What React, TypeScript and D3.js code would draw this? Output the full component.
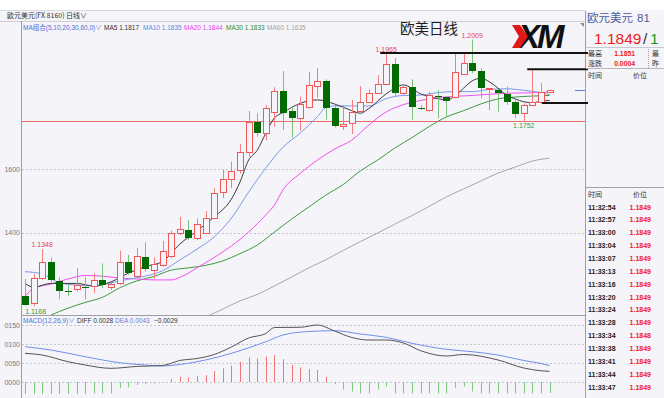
import React, { Component } from "react";
import * as d3 from "d3";

// daily candles, EUR/USD
const opens = [1.1200, 1.1177, 1.1258, 1.1307, 1.1249, 1.1215, 1.1222, 1.1228, 1.1232, 1.1251, 1.1230, 1.1240, 1.1307, 1.1263, 1.1324, 1.1282, 1.1298, 1.1327, 1.1398, 1.1409, 1.1382, 1.1400, 1.1447, 1.1527, 1.1568, 1.1598, 1.1656, 1.1750, 1.1715, 1.1782, 1.1847, 1.1784, 1.1763, 1.1797, 1.1864, 1.1879, 1.1792, 1.1737, 1.1745, 1.1784, 1.1813, 1.1842, 1.1869, 1.1932, 1.1840, 1.1861, 1.1794, 1.1787, 1.1832, 1.1829, 1.1829, 1.1900, 1.1936, 1.1911, 1.1853, 1.1850, 1.1837, 1.1813, 1.1779, 1.1803, 1.1813, 1.1843];
const highs = [1.1254, 1.1270, 1.1348, 1.1322, 1.1259, 1.1237, 1.1288, 1.1261, 1.1272, 1.1303, 1.1245, 1.1343, 1.1330, 1.1351, 1.1370, 1.1322, 1.1374, 1.1406, 1.1450, 1.1440, 1.1445, 1.1468, 1.1540, 1.1598, 1.1624, 1.1679, 1.1784, 1.1777, 1.1803, 1.1859, 1.1910, 1.1797, 1.1829, 1.1908, 1.1919, 1.1884, 1.1803, 1.1803, 1.1819, 1.1863, 1.1852, 1.1897, 1.1965, 1.1951, 1.1868, 1.1884, 1.1803, 1.1845, 1.1850, 1.1829, 1.1966, 1.1966, 1.2009, 1.1919, 1.1855, 1.1852, 1.1861, 1.1819, 1.1808, 1.1913, 1.1873, 1.1851];
const lows = [1.1170, 1.1168, 1.1251, 1.1244, 1.1190, 1.1200, 1.1214, 1.1190, 1.1209, 1.1225, 1.1219, 1.1235, 1.1267, 1.1259, 1.1277, 1.1255, 1.1293, 1.1319, 1.1393, 1.1377, 1.1377, 1.1398, 1.1445, 1.1509, 1.1540, 1.1587, 1.1640, 1.1703, 1.1692, 1.1734, 1.1724, 1.1700, 1.1722, 1.1792, 1.1826, 1.1756, 1.1732, 1.1724, 1.1711, 1.1782, 1.1809, 1.1840, 1.1866, 1.1829, 1.1835, 1.1756, 1.1787, 1.1782, 1.1761, 1.1766, 1.1824, 1.1897, 1.1903, 1.1824, 1.1787, 1.1782, 1.1803, 1.1761, 1.1752, 1.1800, 1.1808, 1.1840];
const closes = [1.1172, 1.1258, 1.1307, 1.1251, 1.1217, 1.1212, 1.1235, 1.1226, 1.1251, 1.1235, 1.1237, 1.1307, 1.1272, 1.1327, 1.1285, 1.1301, 1.1342, 1.1398, 1.1411, 1.1382, 1.1426, 1.1447, 1.1526, 1.1568, 1.1596, 1.1656, 1.1750, 1.1715, 1.1792, 1.1848, 1.1777, 1.1763, 1.1805, 1.1866, 1.1879, 1.1792, 1.1737, 1.1742, 1.1782, 1.1813, 1.1842, 1.1869, 1.1932, 1.1840, 1.1861, 1.1797, 1.1790, 1.1834, 1.1830, 1.1815, 1.1906, 1.1936, 1.1911, 1.1856, 1.1855, 1.1840, 1.1813, 1.1774, 1.1803, 1.1813, 1.1845, 1.1849];

// moving averages: [candle index, value]
const ma5 = [[0, 1.1240], [1, 1.1228], [3, 1.1240], [6, 1.1240], [8, 1.1232], [10, 1.1245], [12, 1.1272], [14, 1.1293], [16, 1.1309], [18, 1.1364], [20, 1.1406], [22, 1.1450], [24, 1.1506], [25, 1.1560], [26, 1.1629], [27, 1.1660], [28, 1.1714], [29, 1.1762], [30, 1.1779], [32, 1.1808], [34, 1.1819], [36, 1.1806], [38, 1.1785], [39, 1.1777], [40, 1.1792], [42, 1.1838], [44, 1.1866], [46, 1.1838], [48, 1.1823], [49, 1.1819], [50, 1.1831], [51, 1.1856], [52, 1.1879], [53, 1.1887], [54, 1.1876], [55, 1.1856], [56, 1.1834], [57, 1.1822], [58, 1.1813], [59, 1.1810], [60, 1.1815], [61, 1.1817]];
const ma10 = [[0, 1.1277], [2, 1.1270], [4, 1.1242], [6, 1.1235], [8, 1.1232], [10, 1.1242], [12, 1.1253], [14, 1.1263], [16, 1.1280], [18, 1.1314], [20, 1.1348], [22, 1.1387], [24, 1.1446], [26, 1.1528], [28, 1.1604], [30, 1.1670], [32, 1.1714], [34, 1.1766], [35, 1.1795], [36, 1.1800], [38, 1.1800], [40, 1.1800], [42, 1.1823], [44, 1.1833], [46, 1.1834], [48, 1.1842], [50, 1.1845], [52, 1.1845], [54, 1.1852], [56, 1.1854], [58, 1.1849], [60, 1.1842], [61, 1.1835]];
const ma20 = [[0, 1.1198], [1, 1.1225], [3, 1.1238], [5, 1.1254], [7, 1.1265], [9, 1.1263], [11, 1.1257], [13, 1.1254], [15, 1.1251], [17, 1.1251], [18, 1.1259], [20, 1.1289], [22, 1.1322], [24, 1.1358], [26, 1.1402], [28, 1.1456], [29, 1.1487], [30, 1.1535], [32, 1.1587], [34, 1.1629], [36, 1.1664], [38, 1.1692], [40, 1.1740], [42, 1.1781], [44, 1.1804], [46, 1.1817], [48, 1.1826], [50, 1.1830], [52, 1.1833], [56, 1.1840], [60, 1.1842], [61, 1.1844]];
const ma30 = [[3, 1.1140], [5, 1.1162], [7, 1.1180], [9, 1.1196], [11, 1.1226], [13, 1.1248], [15, 1.1262], [17, 1.1282], [19, 1.1289], [21, 1.1297], [23, 1.1311], [25, 1.1334], [27, 1.1361], [29, 1.1402], [31, 1.1443], [33, 1.1481], [35, 1.1519], [37, 1.1552], [39, 1.1595], [41, 1.1629], [43, 1.1667], [45, 1.1700], [47, 1.1735], [49, 1.1765], [51, 1.1785], [53, 1.1806], [55, 1.1822], [57, 1.1828], [59, 1.1831], [61, 1.1833]];
const ma60 = [[21, 1.1134], [23, 1.1159], [25, 1.1185], [27, 1.1205], [29, 1.1232], [31, 1.1260], [33, 1.1289], [35, 1.1315], [37, 1.1344], [39, 1.1372], [41, 1.1399], [43, 1.1427], [45, 1.1454], [47, 1.1483], [49, 1.1513], [51, 1.1538], [53, 1.1563], [55, 1.1588], [57, 1.1607], [59, 1.1626], [61, 1.1635]];

// MACD(12,26,9)
const diff = [[0, 0.00755], [2, 0.0071], [5, 0.00534], [7, 0.00447], [10, 0.0036], [13, 0.0041], [16, 0.00434], [18, 0.00566], [20, 0.00618], [22, 0.00724], [24, 0.00921], [26, 0.01158], [28, 0.01276], [29, 0.01434], [32, 0.0144], [34, 0.0150], [36, 0.01342], [38, 0.01171], [40, 0.01105], [42, 0.01105], [44, 0.01026], [46, 0.00824], [49, 0.00684], [51, 0.00724], [55, 0.00579], [58, 0.00368], [60, 0.00295], [61, 0.0028]];
const dea = [[0, 0.00929], [3, 0.00842], [7, 0.00666], [11, 0.00508], [14, 0.00447], [16, 0.00421], [18, 0.0046], [21, 0.00579], [24, 0.00755], [28, 0.0106], [30, 0.01237], [33, 0.01329], [36, 0.0135], [39, 0.01263], [42, 0.01176], [45, 0.01018], [49, 0.0086], [52, 0.00797], [55, 0.0071], [58, 0.00566], [60, 0.00487], [61, 0.0043]];
const macdHist = [-0.0035, -0.0034, -0.0034, -0.0033, -0.0033, -0.0032, -0.0031, -0.0031, -0.0030, -0.0030, -0.0030, -0.0016, -0.0014, -0.0008, -0.0006, -0.0004, -0.0001, 0.0008, 0.0014, 0.0012, 0.0016, 0.0018, 0.0029, 0.0036, 0.0043, 0.0053, 0.0065, 0.0062, 0.0067, 0.0071, 0.0060, 0.0045, 0.0038, 0.0034, 0.0032, 0.0014, -0.0005, -0.0020, -0.0025, -0.0030, -0.0030, -0.0020, -0.0012, -0.0030, -0.0030, -0.0030, -0.0030, -0.0030, -0.0030, -0.0030, -0.0015, -0.0012, -0.0025, -0.0030, -0.0030, -0.0030, -0.0030, -0.0030, -0.0030, -0.0030, -0.0030, -0.0029];

const priceTicks = [1.14, 1.16];
const macdTicks = [0, 0.005, 0.01, 0.015];

// drawn horizontal lines: price level and first candle index
const drawnLevels = [1.1967, 1.1916, 1.1809];
const drawnFrom = [41.3, 58.4, 60.1];
const lowLevel = 1.1752;
const lastPrice = 1.1849;

// tick list on the right
const tickTimes = ["11:32:54", "11:32:57", "11:33:00", "11:33:04", "11:33:07", "11:33:13", "11:33:16", "11:33:20", "11:33:24", "11:33:28", "11:33:34", "11:33:38", "11:33:41", "11:33:44", "11:33:47"];
const tickPrices = ["1.1849", "1.1849", "1.1849", "1.1849", "1.1849", "1.1849", "1.1849", "1.1849", "1.1849", "1.1849", "1.1848", "1.1849", "1.1849", "1.1849", "1.1849"];

const maLegend = [
  { text: "MA5 1.1817", color: "#333333" },
  { text: "MA10 1.1835", color: "#6485e6" },
  { text: "MA20 1.1844", color: "#f23cf2" },
  { text: "MA30 1.1833", color: "#2f8f2f" },
  { text: "MA60 1.1635", color: "#a4a4a4" },
];

const SANS = "'Liberation Sans', Arial, 'Noto Sans CJK SC', sans-serif";
const CJK = "'Noto Sans CJK SC', sans-serif";
const BG = "#f4f4f9";

class App extends Component {
  componentDidMount() {
    this.renderChart();
  }

  componentDidUpdate() {
    this.renderChart();
  }

  renderChart() {
    const svg: any = d3.select(".kline_svg");
    svg.selectAll("*").remove();

    const left = 22, right = 585, top = 21, mainBottom = 315, macdBottom = 394;

    const x = d3.scaleLinear().domain([0, 61]).range([25, 549.6]);
    const y = d3.scaleLinear().domain([1.14, 1.16]).range([232.7, 169.3]);
    const my = d3.scaleLinear().domain([0, 0.015]).range([382, 325]);

    const text = (g: any, tx: number, ty: number, s: string, size: number, color: string, opts: any = {}) =>
      g.append("text")
        .attr("x", tx)
        .attr("y", ty)
        .attr("font-family", opts.family || SANS)
        .attr("font-size", size)
        .attr("font-weight", opts.weight || "normal")
        .attr("font-style", opts.style || "normal")
        .attr("text-anchor", opts.anchor || "start")
        .attr("fill", color)
        .text(s);

    // backgrounds and frames
    svg.append("rect").attr("width", 664).attr("height", 398).attr("fill", BG);
    svg.append("rect").attr("width", 664).attr("height", 10).attr("fill", "#ffffff");
    svg.append("line").attr("x1", 0).attr("x2", right).attr("y1", 10.5).attr("y2", 10.5).attr("stroke", "#d9d9e0");
    svg.append("line").attr("x1", 0).attr("x2", right).attr("y1", top + 0.5).attr("y2", top + 0.5).attr("stroke", "#cfcfd8");
    svg.append("line").attr("x1", left - 0.5).attr("x2", left - 0.5).attr("y1", top).attr("y2", 398).attr("stroke", "#9c9ca4");
    svg.append("line").attr("x1", right + 0.5).attr("x2", right + 0.5).attr("y1", 11).attr("y2", 398).attr("stroke", "#9c9ca4");
    svg.append("line").attr("x1", left).attr("x2", right).attr("y1", mainBottom + 0.5).attr("y2", mainBottom + 0.5).attr("stroke", "#9c9ca4");

    text(svg, 7, 18, "欧元美元(FX 8160)", 7, "#333333", { family: CJK });
    text(svg, 66, 18, "日线∨", 7, "#333333", { family: CJK });

    const defs = svg.append("defs");
    defs.append("clipPath").attr("id", "mainClip").append("rect")
      .attr("x", left).attr("y", top + 1).attr("width", right - left).attr("height", mainBottom - top - 1);
    defs.append("clipPath").attr("id", "macdClip").append("rect")
      .attr("x", left).attr("y", mainBottom + 1).attr("width", right - left).attr("height", macdBottom - mainBottom - 1);

    // grid + left axis
    const grid = svg.append("g");
    priceTicks.forEach((t) => {
      grid.append("line").attr("x1", left).attr("x2", right)
        .attr("y1", Math.round(y(t)) + 0.5).attr("y2", Math.round(y(t)) + 0.5)
        .attr("stroke", "#c4c4cc").attr("stroke-dasharray", "2,2");
      text(grid, 20, y(t) + 2.5, d3.format(".4f")(t).slice(2), 7, "#7a7a80", { anchor: "end" });
    });
    macdTicks.forEach((t) => {
      grid.append("line").attr("x1", left).attr("x2", right)
        .attr("y1", Math.round(my(t)) + 0.5).attr("y2", Math.round(my(t)) + 0.5)
        .attr("stroke", "#c4c4cc").attr("stroke-dasharray", "2,2");
      text(grid, 20, my(t) + 2.5, d3.format(".4f")(t).slice(2), 7, "#7a7a80", { anchor: "end" });
    });

    const main = svg.append("g").attr("clip-path", "url(#mainClip)");

    // low level red line
    main.append("line").attr("x1", left).attr("x2", right)
      .attr("y1", Math.round(y(lowLevel)) + 0.5).attr("y2", Math.round(y(lowLevel)) + 0.5)
      .attr("stroke", "#e86a6a").attr("stroke-width", 1);

    // moving averages
    const line = d3.line<any>().x((d) => x(d[0])).y((d) => y(d[1])).curve(d3.curveMonotoneX);
    const maSets = [[ma60, "#a8a8a8"], [ma30, "#3f9a3f"], [ma20, "#f24ef2"], [ma10, "#7b98ea"], [ma5, "#3a3a3a"]];
    maSets.forEach(([data, color]: any) => {
      main.append("path").attr("d", line(data)).attr("fill", "none").attr("stroke", color).attr("stroke-width", 1);
    });

    // candles
    opens.forEach((o, i) => {
      const c = closes[i];
      const up = c >= o;
      const cx = Math.round(x(i));
      main.append("line")
        .attr("x1", cx + 0.5).attr("x2", cx + 0.5)
        .attr("y1", y(highs[i])).attr("y2", y(lows[i]))
        .attr("stroke", up ? "#f28080" : "#7cc27c");
      const yt = Math.round(y(Math.max(o, c)));
      const yb = Math.round(y(Math.min(o, c)));
      if (up) {
        main.append("rect")
          .attr("x", cx - 2.5).attr("y", yt + 0.5)
          .attr("width", 6).attr("height", Math.max(1, yb - yt))
          .attr("fill", BG).attr("stroke", "#f05858");
      } else {
        main.append("rect")
          .attr("x", cx - 3).attr("y", yt)
          .attr("width", 7).attr("height", Math.max(1, yb - yt))
          .attr("fill", "#006b00");
      }
    });

    // hi / lo labels
    const hiLabel = (i: number, v: number) => text(main, x(i), y(v) - 2, d3.format(".4f")(v), 7, "#e84848", { anchor: "middle" });
    hiLabel(52, highs[52]);
    hiLabel(42, highs[42]);
    hiLabel(2, highs[2]);
    text(main, x(58), y(lows[58]) + 7, d3.format(".4f")(lows[58]), 7, "#3d9a3d", { anchor: "middle" });
    text(main, x(1) + 2, y(lows[1]) + 8, d3.format(".4f")(lows[1]), 7, "#3d9a3d", { anchor: "middle" });

    // hand drawn level lines
    drawnLevels.forEach((lv, k) => {
      svg.append("line")
        .attr("x1", x(drawnFrom[k])).attr("x2", right + 3)
        .attr("y1", y(lv)).attr("y2", y(lv))
        .attr("stroke", "#111111").attr("stroke-width", 2);
    });
    svg.append("line").attr("x1", right - 10).attr("x2", right)
      .attr("y1", Math.round(y(lastPrice)) + 0.5).attr("y2", Math.round(y(lastPrice)) + 0.5)
      .attr("stroke", "#5b7ee0");
    svg.append("path").attr("d", `M${right - 5},${top + 2} L${right - 1},${top + 2} L${right - 1},${top + 6} Z`).attr("fill", "#8a8a90");

    // title and logo
    text(svg, 400, 33.5, "欧美日线", 14.5, "#1e1e1e", { family: CJK });
    text(svg, 518, 48, "XM", 33, "#111111", { weight: "bold", style: "italic" }).attr("letter-spacing", -3);
    svg.append("path").attr("d", "M512,25 L520,25 L528,36.5 L520,48 L512,48 L519,36.5 Z").attr("fill", "#e01818");

    // legends
    text(svg, 23, 29.5, "MA组合(5,10,20,30,60,0)∨", 6.5, "#5070d8");
    const legendX = [104, 143, 184, 226, 267];
    maLegend.forEach((m, k) => text(svg, legendX[k], 29.5, m.text, 6.5, m.color));

    text(svg, 23, 322.5, "MACD(12,26,9)∨", 6.5, "#5070d8");
    text(svg, 77, 322.5, "DIFF " + d3.format(".4f")(diff[diff.length - 1][1]), 6.5, "#333333");
    text(svg, 115, 322.5, "DEA " + d3.format(".4f")(dea[dea.length - 1][1]), 6.5, "#5b7ee0");
    text(svg, 154, 322.5, d3.format(".4f")(macdHist[macdHist.length - 1]), 6.5, "#333333");

    // MACD panel
    const macd = svg.append("g").attr("clip-path", "url(#macdClip)");
    macdHist.forEach((v, i) => {
      const cx = Math.round(x(i)) + 0.5;
      macd.append("line").attr("x1", cx).attr("x2", cx)
        .attr("y1", my(0)).attr("y2", my(v))
        .attr("stroke", v >= 0 ? "#f07878" : "#80c880").attr("stroke-width", 1);
    });
    const mline = d3.line<any>().x((d) => x(d[0])).y((d) => my(d[1])).curve(d3.curveMonotoneX);
    macd.append("path").attr("d", mline(dea)).attr("fill", "none").attr("stroke", "#6f8fea").attr("stroke-width", 1);
    macd.append("path").attr("d", mline(diff)).attr("fill", "none").attr("stroke", "#555555").attr("stroke-width", 1);

    // right quote panel
    const rp = svg.append("g");
    text(rp, 587, 22, "欧元美元", 11.5, "#4c5c9c", { family: CJK });
    text(rp, 637, 22, "81", 11.5, "#4c5c9c");
    text(rp, 594, 43.5, d3.format(".4f")(lastPrice), 15.5, "#ee1c1c");
    text(rp, 643, 43.5, "/", 15.5, "#333333");
    text(rp, 650, 43.5, "1", 15.5, "#1a9a1a");
    rp.append("line").attr("x1", right + 1).attr("x2", 664).attr("y1", 47.5).attr("y2", 47.5).attr("stroke", "#c8c8d0");
    text(rp, 588, 56, "最高", 7, "#333333", { family: CJK });
    text(rp, 635, 56, "1.1851", 6.8, "#ee2222", { anchor: "end", weight: "bold" });
    text(rp, 652, 56, "最", 7, "#333333", { family: CJK });
    text(rp, 588, 66, "涨跌", 7, "#333333", { family: CJK });
    text(rp, 635, 66, "0.0004", 6.8, "#ee2222", { anchor: "end", weight: "bold" });
    text(rp, 652, 66, "昨", 7, "#333333", { family: CJK });
    rp.append("line").attr("x1", 648.5).attr("x2", 648.5).attr("y1", 49).attr("y2", 68).attr("stroke", "#a0a0a8").attr("stroke-dasharray", "1,1");
    rp.append("line").attr("x1", right + 1).attr("x2", 664).attr("y1", 68.5).attr("y2", 68.5).attr("stroke", "#b8b8c0");
    text(rp, 588, 78, "时间", 7, "#333333", { family: CJK });
    text(rp, 647, 78, "价位", 7, "#333333", { family: CJK, anchor: "end" });

    rp.append("line").attr("x1", right + 1).attr("x2", 664).attr("y1", 187.5).attr("y2", 187.5).attr("stroke", "#a0a0a8");
    text(rp, 588, 197, "时间", 7, "#333333", { family: CJK });
    text(rp, 647, 197, "价位", 7, "#333333", { family: CJK, anchor: "end" });

    const rowY = d3.scaleLinear().domain([0, tickTimes.length - 1]).range([209.5, 389.5]);
    tickTimes.forEach((t, k) => {
      text(rp, 588, rowY(k), t, 7, "#222222", { weight: "bold" });
      text(rp, 651, rowY(k), tickPrices[k], 7, "#ee2222", { weight: "bold", anchor: "end" });
    });
  }

  render() {
    return (
      <svg
        className="kline_svg"
        width={664}
        height={398}
        style={{ position: "absolute", left: 0, top: 0, display: "block" }}
      ></svg>
    );
  }
}

export default App;
